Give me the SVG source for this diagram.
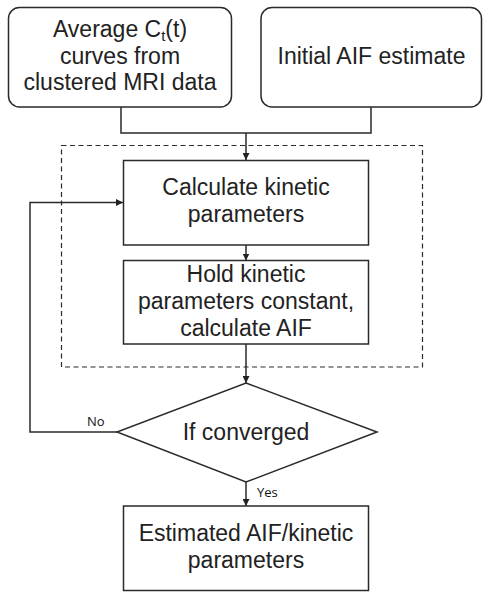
<svg xmlns="http://www.w3.org/2000/svg" width="488" height="599" viewBox="0 0 488 599">
<style>
.box{fill:#fff;stroke:#2a2a2a;stroke-width:1.5}
.t{font-family:"Liberation Sans",Arial,sans-serif;font-size:23px;fill:#222;text-anchor:middle}
.s{font-family:"Open Sans","Noto Sans",sans-serif;font-size:13px;fill:#111}
.c{fill:none;stroke:#2a2a2a;stroke-width:1.5}
.d{fill:none;stroke:#2a2a2a;stroke-width:1.2;stroke-dasharray:5,3.5}
</style>
<defs>
<marker id="ah" viewBox="0 0 10 10" refX="10" refY="5" markerWidth="7" markerHeight="7" markerUnits="userSpaceOnUse" orient="auto">
<path d="M0,0 L10,5 L0,10 z" fill="#222"/>
</marker>
</defs>
<rect width="488" height="599" fill="#fff"/>
<g id="loop-region"><rect class="d" x="61.5" y="145.5" width="361" height="221.5"/></g>
<g id="connectors">
<path class="c" d="M121,107 V133 H371 V107"/>
<path class="c" d="M246,133 V160" marker-end="url(#ah)"/>
<path class="c" d="M246,245 V260.5" marker-end="url(#ah)"/>
<path class="c" d="M246,344 V383" marker-end="url(#ah)"/>
<path class="c" d="M117,432 H30 V202.5 H123" marker-end="url(#ah)"/>
<path class="c" d="M246,482 V506" marker-end="url(#ah)"/>
<text class="s" x="87" y="426">No</text>
<text class="s" x="257" y="497">Yes</text>
</g>
<g id="ct-curves">
<rect class="box" x="8.5" y="7.5" width="223" height="99.5" rx="11"/>
<text class="t" x="120" y="37">Average C<tspan font-size="15" dy="4">t</tspan><tspan dy="-4">(t)</tspan></text>
<text class="t" x="120" y="63.5">curves from</text>
<text class="t" x="120" y="90">clustered MRI data</text>
</g>
<g id="initial-aif">
<rect class="box" x="261" y="7.5" width="220.5" height="99.5" rx="11"/>
<text class="t" x="371.5" y="63.5">Initial AIF estimate</text>
</g>
<g id="calc-kinetic">
<rect class="box" x="123.5" y="160.5" width="245" height="84.5"/>
<text class="t" x="246" y="195">Calculate kinetic</text>
<text class="t" x="246" y="222">parameters</text>
</g>
<g id="hold-kinetic">
<rect class="box" x="123.5" y="260.5" width="245" height="83.5"/>
<text class="t" x="246" y="282">Hold kinetic</text>
<text class="t" x="246" y="309">parameters constant,</text>
<text class="t" x="246" y="336">calculate AIF</text>
</g>
<g id="converged">
<polygon class="box" points="246,383 377,432 246,482 117,432"/>
<text class="t" x="246" y="440">If converged</text>
</g>
<g id="estimated">
<rect class="box" x="123.5" y="506" width="245" height="84.5"/>
<text class="t" x="246" y="541">Estimated AIF/kinetic</text>
<text class="t" x="246" y="568">parameters</text>
</g>
</svg>
